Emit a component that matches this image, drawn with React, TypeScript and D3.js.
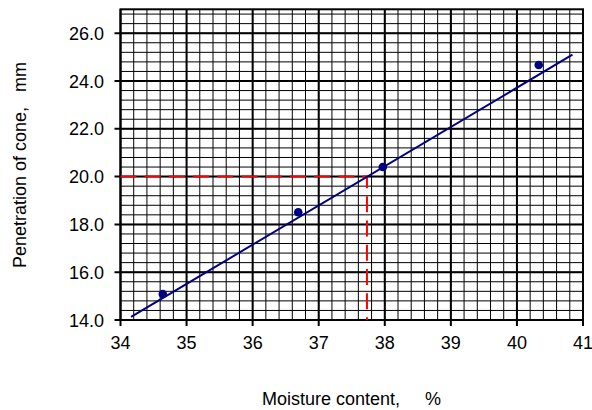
import React from "react";
import * as d3 from "d3";

const moisture = [34.64, 36.69, 37.97, 40.33];
const penetration = [15.09, 18.51, 20.4, 24.67];
const fitX = [34.16, 40.84];
const fitY = [14.13, 25.1];
const refPenetration = 20;
const refMoisture = 37.73;
const xTicks = [34, 35, 36, 37, 38, 39, 40, 41];
const yTicks = [14, 16, 18, 20, 22, 24, 26];

const W = 592, H = 410;
const L = 120.5, R = 583, T = 9.3, B = 320;
const FONT = "'Liberation Sans', Arial, sans-serif";

export default function App() {
  const x = d3.scaleLinear().domain([34, 41]).range([L, R]);
  const y = d3.scaleLinear().domain([14, 27]).range([B, T]);
  const xMinor = d3.range(34, 41.001, 0.2);
  const yMinor = d3.range(14, 27.001, 0.4);
  const line = d3.line<number>().x((_, i) => x(fitX[i])).y((d) => y(d));
  const refPath = `M${x(34)},${y(refPenetration)}L${x(refMoisture)},${y(refPenetration)}L${x(refMoisture)},${y(14)}`;
  return (
    <svg width={W} height={H} style={{ position: "absolute", left: 0, top: 0, background: "#fff" }}>
      <rect x={0} y={0} width={W} height={H} fill="#fff" />
      {xMinor.map((v, i) => (
        <line key={"xm" + i} x1={x(v)} x2={x(v)} y1={T} y2={B} stroke="#000" strokeWidth={1} />
      ))}
      {yMinor.map((v, i) => (
        <line key={"ym" + i} x1={L} x2={R} y1={y(v)} y2={y(v)} stroke="#000" strokeWidth={1} />
      ))}
      {xTicks.map((v) => (
        <line key={"xM" + v} x1={x(v)} x2={x(v)} y1={T} y2={B + 6} stroke="#000" strokeWidth={2} />
      ))}
      {yTicks.map((v) => (
        <line key={"yM" + v} x1={L - 6} x2={R} y1={y(v)} y2={y(v)} stroke="#000" strokeWidth={2} />
      ))}
      <rect x={L} y={T} width={R - L} height={B - T} fill="none" stroke="#000" strokeWidth={2} />
      <path d={refPath} fill="none" stroke="#ff0000" strokeWidth={2} strokeDasharray="16,8.2" />
      <path d={line(fitY) || ""} fill="none" stroke="#000080" strokeWidth={2} />
      {moisture.map((m, i) => (
        <circle key={"p" + i} cx={x(m)} cy={y(penetration[i])} r={4.3} fill="#000080" />
      ))}
      {xTicks.map((v) => (
        <text key={"xl" + v} x={x(v)} y={349} textAnchor="middle" fontFamily={FONT} fontSize={18} fill="#000">
          {v}
        </text>
      ))}
      {yTicks.map((v) => (
        <text key={"yl" + v} x={104} y={y(v) + 6.5} textAnchor="end" fontFamily={FONT} fontSize={18} fill="#000">
          {v.toFixed(1)}
        </text>
      ))}
      <text x={262} y={405} textAnchor="start" fontFamily={FONT} fontSize={18} fill="#000" style={{ whiteSpace: "pre" }}>
        {"Moisture content,     %"}
      </text>
      <text
        transform={`translate(26,165) rotate(-90)`}
        textAnchor="middle"
        fontFamily={FONT}
        fontSize={18}
        fill="#000"
        style={{ whiteSpace: "pre" }}
      >
        {"Penetration of cone,   mm"}
      </text>
    </svg>
  );
}
